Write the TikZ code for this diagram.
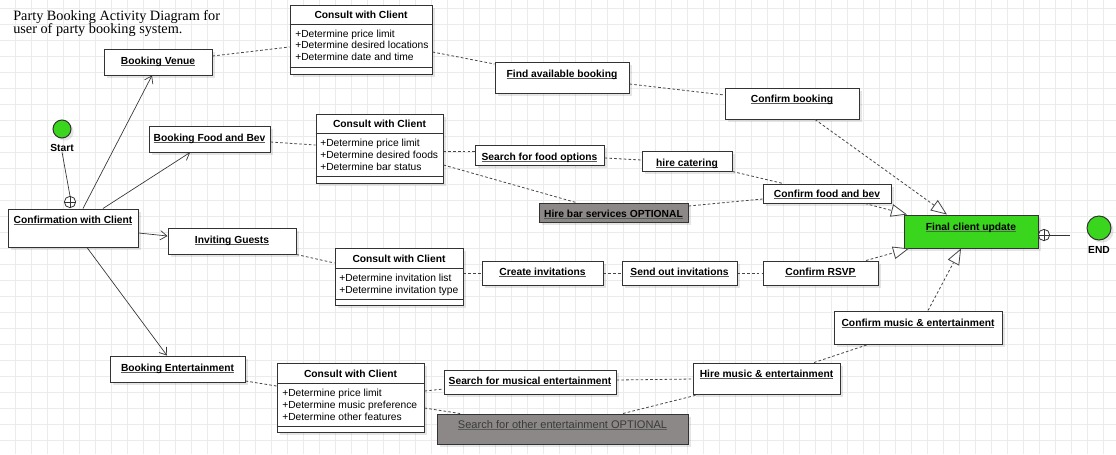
\documentclass[tikz,border=0pt]{standalone}
\usepackage{fontspec}
\setmainfont{Liberation Serif}
\setsansfont{Liberation Sans}
\usetikzlibrary{arrows.meta,shadows}
\definecolor{gridc}{RGB}{235,235,235}
\definecolor{linec}{RGB}{51,51,51}
\definecolor{dashc}{RGB}{70,70,70}
\definecolor{greenc}{RGB}{58,214,30}
\definecolor{optc}{RGB}{141,136,136}
\definecolor{optt}{RGB}{58,58,58}
\definecolor{ulc}{RGB}{90,90,90}
\newsavebox\ulbox
\newcommand\uln[1]{\sbox\ulbox{#1}\rlap{\textcolor{ulc}{\rule[-1.4pt]{\wd\ulbox}{0.9pt}}}\usebox\ulbox}
\newcommand\bxfont{\sffamily\fontsize{7.7}{9}\selectfont}
\newcommand\optfont{\sffamily\fontsize{8.3}{9}\selectfont}
\newcommand\abox[8][]{%
  \pgfmathsetmacro\abw{(#5-#3)*0.75}%
  \pgfmathsetmacro\abh{(#7-#4)*0.75}%
  \pgfmathsetmacro\abd{(#6-#7)*0.75}%
  \node[abox,#1,minimum width=\abw pt,text height=\abh pt,text depth=\abd pt] (#2) at ({(#3+#5)/2},{(#4+#6)/2}) {#8};}
\tikzset{
  abox/.style={draw=linec, line width=0.75pt, fill=white, inner xsep=0pt, inner ysep=0pt,
    font=\bxfont\bfseries,
    drop shadow={shadow xshift=2.5pt, shadow yshift=-2.5pt, fill=black, opacity=0.1}},
  optbox/.style={fill=optc},
  ctitle/.style={anchor=base, font=\bxfont\bfseries, inner sep=0pt},
  cattr/.style={anchor=base west, font=\bxfont, inner sep=0pt},
  conn/.style={draw=dashc, line width=0.6pt, dash pattern=on 2pt off 1.6pt},
  flow/.style={draw=linec, line width=0.5pt, -{Straight Barb[length=5pt,width=7pt]}},
  gen/.style={conn, -{Triangle[length=12pt,width=9.5pt,fill=white,line width=0.6pt]}},
  sepline/.style={draw=linec, line width=0.75pt},
  cpl/.style={circle, draw=linec, line width=0.6pt, fill=white, minimum size=8.5pt, inner sep=0pt,
    path picture={\draw[linec,line width=0.6pt] (path picture bounding box.north) -- (path picture bounding box.south)
      (path picture bounding box.west) -- (path picture bounding box.east);}},
  endpt/.style={circle, draw=linec, line width=0.75pt, fill=greenc, inner sep=0pt,
    drop shadow={shadow xshift=2pt, shadow yshift=-2pt, fill=black, opacity=0.1}},
  lbl/.style={font=\bxfont\bfseries, inner sep=0pt}
}
\begin{document}
\begin{tikzpicture}[x=0.75pt,y=-0.75pt]
\useasboundingbox (0,0) rectangle (1116,454);
\fill[white] (0,0) rectangle (1116,454);
\foreach \gx in {0,...,68} \draw[gridc, line width=0.75pt] ({15.3+16*\gx},0) -- ({15.3+16*\gx},454);
\foreach \gy in {0,...,27} \draw[gridc, line width=0.75pt] (0,{8.3+16*\gy}) -- (1116,{8.3+16*\gy});

% title
\node[anchor=base west, inner sep=0pt, font=\fontsize{10.7}{12}\selectfont] (title1) at (13,20) {Party Booking Activity Diagram for};
\node[anchor=base west, inner sep=0pt, font=\fontsize{10.7}{12}\selectfont] (title2) at (13,33) {user of party booking system.};

% start / end
\node[endpt, minimum size=13.5pt] (start) at (62,129) {};
\node[lbl] (starttxt) at (62,148) {Start};
\node[endpt, minimum size=18pt] (endc) at (1099,228) {};
\node[lbl] (endtxt) at (1099,250) {END};

% activity boxes
\abox{confirm}{8}{209}{138}{247}{223}{\uln{Confirmation with Client}}
\abox{venue}{104}{49}{212}{75}{64}{\uln{Booking Venue}}
\abox{food}{149}{126}{270}{152}{141}{\uln{Booking Food and Bev}}
\abox{guests}{168}{228}{296}{254}{243}{\uln{Inviting Guests}}
\abox{ent}{110}{356}{245}{382}{371}{\uln{Booking Entertainment}}
\abox{findbk}{495}{62}{629}{93}{77}{\uln{Find available booking}}
\abox{confbk}{725}{88}{859}{119}{102}{\uln{Confirm booking}}
\abox{searchfood}{475}{145}{604}{165}{160}{\uln{Search for food options}}
\abox{catering}{642}{151}{732}{171}{166}{\uln{hire catering}}
\abox{conffood}{763}{184}{891}{203}{197}{\uln{Confirm food and bev}}
\abox[optbox]{bar}{539}{203}{688}{222}{217}{\uln{Hire bar services OPTIONAL}}
\abox[fill=greenc]{final}{904}{215}{1038}{248}{230}{\uln{Final client update}}
\abox{create}{482}{261}{603}{285}{275}{\uln{Create invitations}}
\abox{sendout}{622}{261}{737}{285}{275}{\uln{Send out invitations}}
\abox{rsvp}{763}{261}{878}{285}{275}{\uln{Confirm RSVP}}
\abox{confmusic}{834}{311}{1002}{344}{326}{\uln{Confirm music \& entertainment}}
\abox{hiremusic}{693}{363}{840}{394}{377}{\uln{Hire music \& entertainment}}
\abox{searchmusic}{444}{370}{616}{394}{384}{\uln{Search for musical entertainment}}
\abox[optbox, font=\optfont, text=optt]{searchother}{437}{414}{688}{444}{428}{\uln{Search for other entertainment OPTIONAL}}

% consult boxes
\abox{cv}{290}{5}{432}{74}{40}{}
\draw[sepline] (cv.west |- 0,24) -- (cv.east |- 0,24) (cv.west |- 0,67) -- (cv.east |- 0,67);
\node[ctitle] (cvt) at (361,18) {Consult with Client};
\node[cattr] (cva) at (295,37) {+Determine price limit};
\node[cattr] (cvb) at (295,48.5) {+Determine desired locations};
\node[cattr] (cvc) at (295,60) {+Determine date and time};

\abox{cf}{316}{114}{443}{183}{150}{}
\draw[sepline] (cf.west |- 0,133) -- (cf.east |- 0,133) (cf.west |- 0,176) -- (cf.east |- 0,176);
\node[ctitle] (cft) at (379.5,127) {Consult with Client};
\node[cattr] (cfa) at (320,146) {+Determine price limit};
\node[cattr] (cfb) at (320,158) {+Determine desired foods};
\node[cattr] (cfc) at (320,170) {+Determine bar status};

\abox{ci}{335}{248}{463}{305}{280}{}
\draw[sepline] (ci.west |- 0,268) -- (ci.east |- 0,268) (ci.west |- 0,299) -- (ci.east |- 0,299);
\node[ctitle] (cit) at (399,262) {Consult with Client};
\node[cattr] (cia) at (339,281) {+Determine invitation list};
\node[cattr] (cib) at (339,293) {+Determine invitation type};

\abox{ce}{277}{363}{424}{432}{400}{}
\draw[sepline] (ce.west |- 0,383) -- (ce.east |- 0,383) (ce.west |- 0,426) -- (ce.east |- 0,426);
\node[ctitle] (cet) at (350.5,377) {Consult with Client};
\node[cattr] (cea) at (282,396) {+Determine price limit};
\node[cattr] (ceb) at (282,408) {+Determine music preference};
\node[cattr] (cec) at (282,420) {+Determine other features};

% pseudo states
\node[cpl] (cp1) at (70,202) {};
\node[cpl] (cp2) at (1044,235) {};
\coordinate (endl) at (1070,235);

% solid flows
\draw[draw=linec, line width=0.5pt] (starttxt.south) -- (cp1.north);
\draw[draw=linec, line width=0.5pt] (cp2.east) -- (endl);
\draw[flow] (confirm.north -| 83,0) -- (venue.south -| 152,0);
\draw[flow] (confirm.north -| 103,0) -- (food.south -| 190,0);
\draw[flow] (confirm.east |- 0,233) -- (guests.west |- 0,236);
\draw[flow] (confirm.south -| 87,0) -- (ent.north -| 167,0);

% dashed links
\draw[conn] (venue.east |- 0,56) -- (cv.west |- 0,47);
\draw[conn] (cv.east |- 0,52) -- (findbk.west |- 0,64);
\draw[conn] (findbk.east |- 0,84) -- (confbk.west |- 0,95);
\draw[gen] (confbk.south -| 815,0) -- (final.north -| 947,0);
\draw[conn] (food.east |- 0,142) -- (cf.west |- 0,145);
\draw[conn] (cf.east |- 0,151) -- (searchfood.west |- 0,151);
\draw[conn] (cf.east |- 0,165) -- (bar.north -| 576,0);
\draw[conn] (searchfood.east |- 0,158) -- (catering.west |- 0,160);
\draw[conn] (catering.south east) -- (conffood.north -| 783,0);
\draw[conn] (bar.east |- 0,206) -- (conffood.west |- 0,199);
\draw[gen] (conffood.south -| 865,0) -- (final.north -| 907,0);
\draw[conn] (guests.south east) -- (ci.west |- 0,263);
\draw[conn] (ci.east |- 0,273) -- (create.west |- 0,273);
\draw[conn] (create.east |- 0,273) -- (sendout.west |- 0,273);
\draw[conn] (sendout.east |- 0,273) -- (rsvp.west |- 0,273);
\draw[gen] (rsvp.north -| 866,0) -- (final.south -| 909,0);
\draw[conn] (ent.east |- 0,381) -- (ce.west |- 0,386);
\draw[conn] (ce.east |- 0,391) -- (searchmusic.west |- 0,389);
\draw[conn] (ce.east |- 0,408) -- (searchother.north -| 460,0);
\draw[conn] (searchmusic.east |- 0,380) -- (hiremusic.west |- 0,379);
\draw[conn] (searchother.north -| 623,0) -- (hiremusic.south -| 699,0);
\draw[conn] (hiremusic.north -| 814,0) -- (confmusic.south -| 868,0);
\draw[gen] (confmusic.north -| 928,0) -- (final.south -| 961,0);
\end{tikzpicture}
\end{document}
